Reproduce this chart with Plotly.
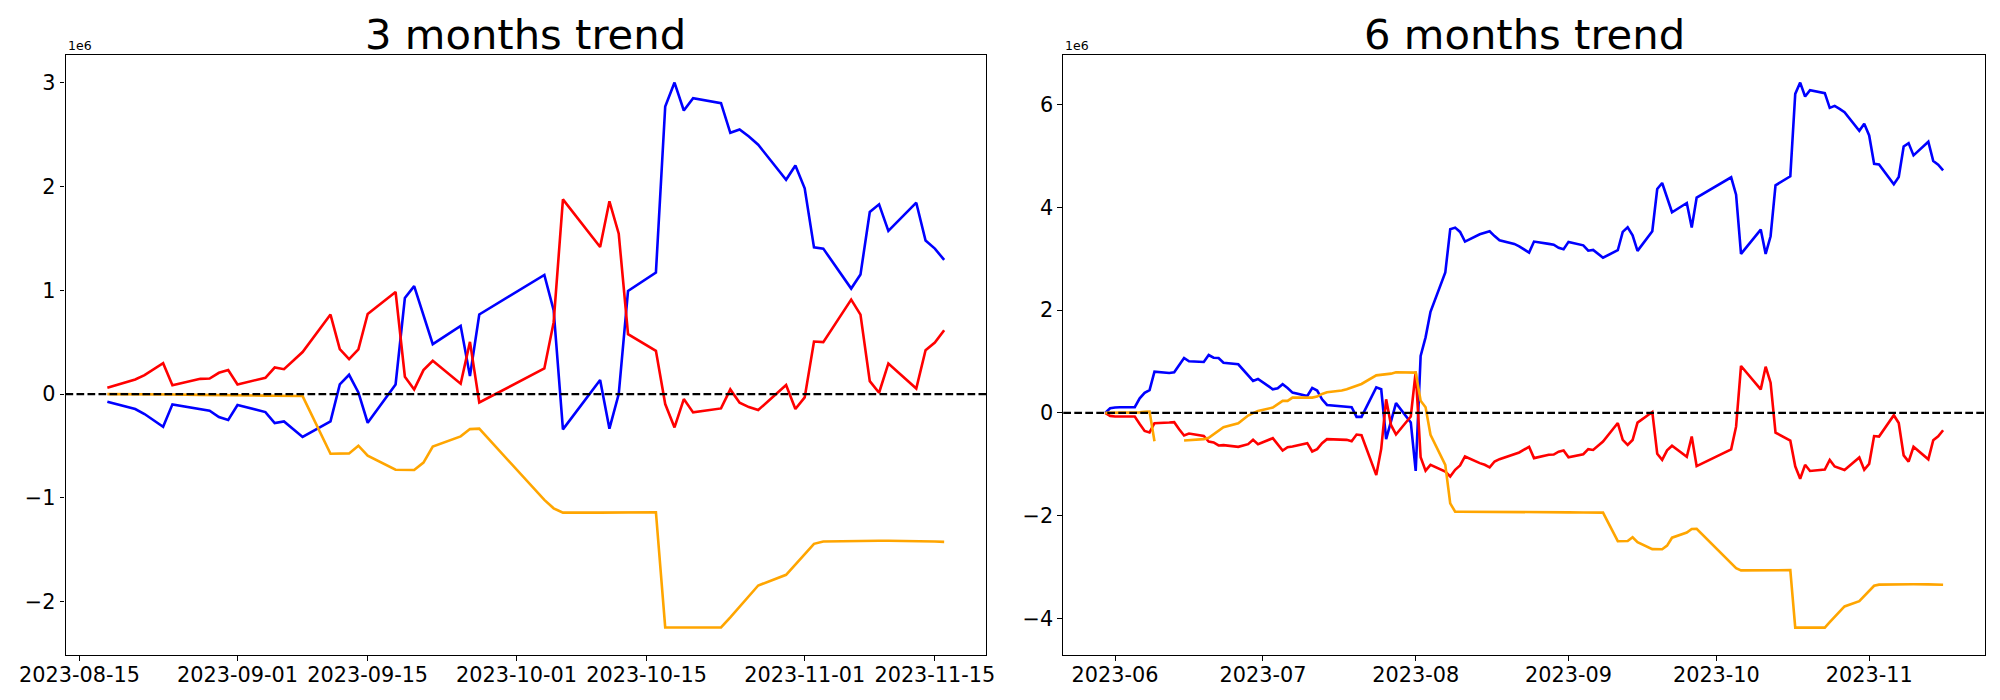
import plotly.graph_objects as go
import pandas as pd

# ---------------- data ----------------
skipped_days = ["2023-08-23", "2023-09-07", "2023-09-28", "2023-09-29",
                "2023-10-02", "2023-10-03", "2023-10-09"]

m3_dates = [d.strftime("%Y-%m-%d") for d in pd.bdate_range("2023-08-18", "2023-11-16")
            if d.strftime("%Y-%m-%d") not in skipped_days]
m6_dates = [d.strftime("%Y-%m-%d") for d in pd.bdate_range("2023-05-30", "2023-11-16")
            if d.strftime("%Y-%m-%d") not in skipped_days]

# values in millions (axis multiplier 1e6)
m3_blue = [-0.074, -0.144, -0.192, -0.314, -0.099, -0.144, -0.160, -0.221, -0.250,
           -0.106, -0.173, -0.279, -0.263, -0.413, -0.263, 0.093, 0.186, 0.016, -0.276,
           0.093, 0.926, 1.040, 0.760, 0.481, 0.657, 0.173, 0.767,
           1.147, 0.808, -0.340, 0.135, -0.333, 0.000, 0.994, 1.170, 2.769, 3.000, 2.731,
           2.849, 2.801, 2.516, 2.548, 2.481, 2.401, 2.064, 2.202,
           1.981, 1.413, 1.401, 1.016, 1.151, 1.753, 1.827, 1.571, 1.843, 1.478, 1.401, 1.292]
m3_red = [0.061, 0.141, 0.183, 0.298, 0.085, 0.147, 0.150, 0.205, 0.231,
          0.093, 0.157, 0.256, 0.240, 0.405, 0.766, 0.433, 0.337, 0.431, 0.772,
          0.984, 0.167, 0.045, 0.231, 0.321, 0.100, 0.503, -0.081,
          0.247, 0.690, 1.875, 1.417, 1.856, 1.545, 0.577, 0.417, -0.096, -0.321, -0.048,
          -0.176, -0.138, 0.045, -0.083, -0.125, -0.154, 0.087, -0.144,
          -0.032, 0.506, 0.500, 0.910, 0.765, 0.125, 0.013, 0.295, 0.054, 0.423, 0.497, 0.615]
m3_orange = [0.000, 0.000, 0.000, -0.002, -0.004, -0.008, -0.010, -0.011, -0.012,
             -0.013, -0.015, -0.016, -0.017, -0.019, -0.574, -0.574, -0.571, -0.497, -0.593,
             -0.728, -0.731, -0.731, -0.660, -0.506, -0.407, -0.337, -0.333,
             -1.019, -1.100, -1.141, -1.141, -1.141, -1.139, -1.135, -1.138, -2.247, -2.247, -2.250,
             -2.244, -2.247, -2.150, -2.050, -1.945, -1.843, -1.740, -1.640,
             -1.540, -1.442, -1.420, -1.413, -1.412, -1.412, -1.413, -1.413, -1.414, -1.418, -1.420, -1.423]

m6_blue = [0.000, 0.091,
           0.104, 0.110, 0.110, 0.285, 0.390, 0.445, 0.803, 0.777, 0.790, 0.926, 1.068, 1.003,
           0.990, 1.126, 1.074, 1.068, 0.977, 0.945, 0.835, 0.744, 0.621, 0.660,
           0.460, 0.479, 0.557, 0.485, 0.395, 0.330, 0.485, 0.434, 0.265, 0.155, 0.123,
           0.123, 0.110, -0.078, -0.078, 0.498, 0.460, -0.511, -0.160, 0.190, -0.185,
           -1.130, 1.107, 1.470, 1.968, 2.731, 3.573, 3.605, 3.521, 3.333, 3.476, 3.510,
           3.534, 3.440, 3.359, 3.287, 3.240, 3.120, 3.333, 3.288, 3.273, 3.212, 3.183,
           3.327, 3.260, 3.155, 3.170, 3.020, 3.165, 3.521, 3.612, 3.456, 3.152, 3.534,
           4.356, 4.472, 4.190, 3.903, 4.084, 3.605, 4.188,
           4.583, 4.246, 3.094, 3.566, 3.094, 3.437, 4.427, 4.602, 6.207, 6.427, 6.155,
           6.278, 6.220, 5.935, 5.974, 5.916, 5.851, 5.489, 5.625,
           5.398, 4.848, 4.835, 4.447, 4.589, 5.184, 5.249, 5.010, 5.275, 4.900, 4.828, 4.718]
m6_red = [0.000, -0.058,
          -0.071, -0.071, -0.071, -0.214, -0.350, -0.380, -0.200, -0.188, -0.181, -0.317, -0.440,
          -0.401, -0.447, -0.557, -0.576, -0.634, -0.628, -0.660, -0.634, -0.608, -0.524, -0.608,
          -0.492, -0.602, -0.731, -0.667, -0.654, -0.589, -0.751, -0.705, -0.589, -0.511, -0.511,
          -0.524, -0.550, -0.421, -0.434, -1.210, -0.700, 0.265, -0.240, -0.420, -0.070,
          0.803, -0.864, -1.123, -1.010, -1.143, -1.236, -1.107, -1.023, -0.848, -0.977, -1.010,
          -1.061, -0.945, -0.900, -0.810, -0.770, -0.660, -0.880, -0.815, -0.810, -0.755, -0.730,
          -0.865, -0.804, -0.705, -0.721, -0.556, -0.197, -0.526, -0.623, -0.527, -0.189, 0.018,
          -0.795, -0.914, -0.730, -0.640, -0.855, -0.459, -1.035,
          -0.710, -0.268, 0.913, 0.458, 0.898, 0.587, -0.383, -0.541, -1.040, -1.282, -1.010,
          -1.130, -1.103, -0.915, -1.043, -1.080, -1.111, -0.868, -1.106,
          -0.991, -0.451, -0.460, -0.045, -0.198, -0.826, -0.947, -0.660, -0.904, -0.531, -0.456, -0.338]
m6_orange = [0.000, 0.000,
             0.000, 0.000, 0.000, 0.010, 0.020, 0.026, -0.550, None, None, None, -0.537,
             -0.531, -0.511, -0.485, -0.414, -0.350, -0.278, -0.201, -0.123, -0.052, -0.006, 0.039,
             0.104, 0.168, 0.233, 0.233, 0.298, 0.298, 0.298, 0.317, 0.369, 0.401, 0.434,
             0.460, 0.498, 0.531, 0.563, 0.730, 0.738, 0.757, 0.764, 0.790, 0.790,
             0.783, 0.236, 0.110, -0.427, -1.010, -1.760, -1.922, -1.922, -1.922, -1.922, -1.922,
             -1.922, -1.922, -1.922, -1.922, -1.922, -1.924, -1.926, -1.930, -1.932, -1.933, -1.934,
             -1.935, -1.937, -1.938, -1.939, -1.941, -2.496, -2.496, -2.493, -2.419, -2.515, -2.650,
             -2.653, -2.653, -2.582, -2.428, -2.329, -2.259, -2.255,
             -2.941, -3.022, -3.063, -3.063, -3.063, -3.061, -3.057, -3.060, -4.178, -4.178, -4.180,
             -4.176, -4.178, -4.072, -3.972, -3.867, -3.765, -3.662, -3.562,
             -3.462, -3.364, -3.342, -3.335, -3.334, -3.334, -3.335, -3.335, -3.336, -3.340, -3.342, -3.345]

m3_xticks = ["2023-08-15", "2023-09-01", "2023-09-15", "2023-10-01", "2023-10-15", "2023-11-01", "2023-11-15"]
m6_xticks = ["2023-06-01", "2023-07-01", "2023-08-01", "2023-09-01", "2023-10-01", "2023-11-01"]
m6_xticklabels = ["2023-06", "2023-07", "2023-08", "2023-09", "2023-10", "2023-11"]
m3_yticks = [-2, -1, 0, 1, 2, 3]
m6_yticks = [-4, -2, 0, 2, 4, 6]
titles = ["3 months trend", "6 months trend"]
SCALE = 1e6

# ---------------- figure ----------------
FONT = "DejaVu Sans"
PAGE_W, PAGE_H = 2000, 700
OFF = 8  # default body margin of the html page
W, H = PAGE_W - OFF, PAGE_H - OFF


def px(X):  # page x pixel -> paper fraction
    return (X - OFF) / W


def py(Y):  # page y pixel -> paper fraction
    return (PAGE_H - Y) / H


fig = go.Figure()

panels = [
    dict(dates=m3_dates, series=[m3_blue, m3_red, m3_orange], xt=m3_xticks, xtl=m3_xticks,
         yt=m3_yticks, xdom=[px(65.5), px(986)], ax=""),
    dict(dates=m6_dates, series=[m6_blue, m6_red, m6_orange], xt=m6_xticks, xtl=m6_xticklabels,
         yt=m6_yticks, xdom=[px(1063.3), px(1985)], ax="2"),
]
colors = ["blue", "red", "orange"]
ydom = [py(655), py(55.3)]


def minus(v):
    return str(v).replace("-", "\u2212")


for i, p in enumerate(panels):
    xa = "x" + p["ax"]
    ya = "y" + p["ax"]
    allv = []
    for s, c in zip(p["series"], colors):
        fig.add_trace(go.Scatter(
            x=p["dates"], y=[None if v is None else v * SCALE for v in s],
            mode="lines", line=dict(color=c, width=2.6), xaxis=xa, yaxis=ya,
            showlegend=False, hoverinfo="skip"))
        allv += [v for v in s if v is not None]
    # matplotlib-like 5% autoscale margins
    d0 = pd.Timestamp(p["dates"][0])
    d1 = pd.Timestamp(p["dates"][-1])
    dm = (d1 - d0) * 0.05
    vmin, vmax = min(allv), max(allv)
    vm = (vmax - vmin) * 0.05
    axis_common = dict(showline=True, linecolor="black", linewidth=1.1, mirror=True,
                       showgrid=False, zeroline=False, ticks="outside", ticklen=4.9,
                       tickwidth=1.1, tickcolor="black", automargin=False,
                       tickfont=dict(family=FONT, size=20.8, color="black"))
    fig.update_layout(**{
        "xaxis" + p["ax"]: dict(domain=p["xdom"], anchor=ya, type="date",
                                range=[d0 - dm, d1 + dm], tickmode="array",
                                tickvals=p["xt"], ticktext=p["xtl"],
                                ticklabelstandoff=-4, **axis_common),
        "yaxis" + p["ax"]: dict(domain=ydom, anchor=xa,
                                range=[(vmin - vm) * SCALE, (vmax + vm) * SCALE],
                                tickmode="array", tickvals=[t * SCALE for t in p["yt"]],
                                ticktext=[minus(t) for t in p["yt"]], **axis_common),
    })
    # zero reference line
    fig.add_shape(type="line", xref=xa + " domain", yref=ya, x0=0, x1=1, y0=0, y1=0,
                  line=dict(color="black", width=2.08, dash="7.7px,3.3px"), layer="above")
    # title
    fig.add_annotation(text=titles[i], xref="paper", yref="paper",
                       x=(p["xdom"][0] + p["xdom"][1]) / 2, y=py(61),
                       xanchor="center", yanchor="bottom", showarrow=False,
                       font=dict(family=FONT, size=41.7, color="black"))
    # offset text
    fig.add_annotation(text="1e6", xref="paper", yref="paper",
                       x=p["xdom"][0], y=py(54.5), xanchor="left", yanchor="bottom",
                       showarrow=False, font=dict(family=FONT, size=12.5, color="black"))

fig.update_layout(width=W, height=H, margin=dict(l=0, r=0, t=0, b=0, autoexpand=False),
                  paper_bgcolor="white", plot_bgcolor="white")
fig.write_html("out.html")
